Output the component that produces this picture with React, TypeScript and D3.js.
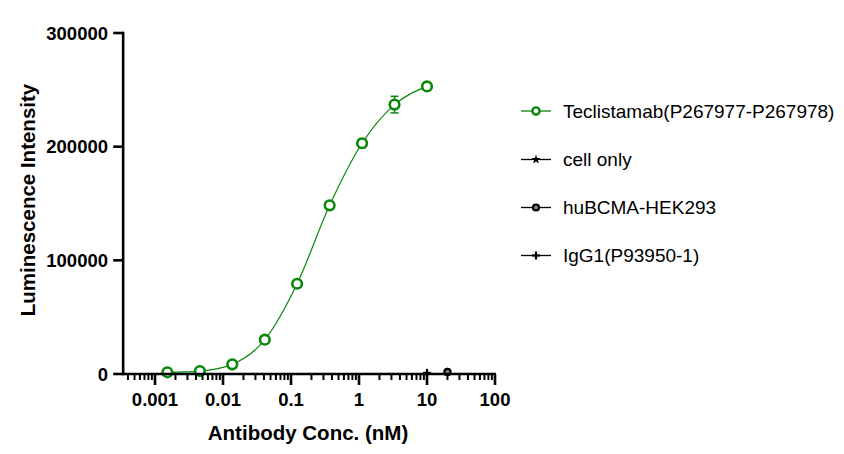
import React from "react";
import * as d3 from "d3";

const conc = [0.00152, 0.00457, 0.0137, 0.0412, 0.123, 0.37, 1.11, 3.33, 10];
const teclistamab = [1500, 2600, 8500, 30200, 79400, 148400, 203000, 237000, 253000];
const teclistamabSem = [300, 400, 500, 600, 800, 1000, 3800, 7300, 1500];
const cellOnlyX = [20];
const cellOnly = [1500];
const huBCMAX = [20];
const huBCMA = [1800];
const igg1X = [10];
const igg1 = [1000];
const yTicks = [0, 100000, 200000, 300000];
const xTicks = [0.001, 0.01, 0.1, 1, 10, 100];
const xTickLabels = ["0.001", "0.01", "0.1", "1", "10", "100"];
const legendLabels = ["Teclistamab(P267977-P267978)", "cell only", "huBCMA-HEK293", "IgG1(P93950-1)"];

const GREEN = "#0a860a";
const FONT = "Arial, 'Liberation Sans', sans-serif";

export default function App() {
  const x = d3.scaleLog().domain([0.001, 100]).range([155, 495]);
  const y = d3.scaleLinear().domain([0, 300000]).range([374, 33]);
  const xMin = 0.00034;
  const x0 = x(xMin);
  const minor: number[] = [];
  for (let e = -4; e < 2; e++) {
    for (let m = 2; m <= 9; m++) {
      const v = m * Math.pow(10, e);
      if (v > xMin && v < 100) minor.push(v);
    }
  }
  const line = d3
    .line<number>()
    .x((_, i) => x(conc[i]))
    .y((d) => y(d))
    .curve(d3.curveMonotoneX);

  const starPath = d3.symbol(d3.symbolStar, 28)() as string;
  const legendY = [111, 159.5, 207.5, 255.5];

  const marker = (kind: string, cx: number, cy: number, key: string, small = false) => {
    if (kind === "circleGreen")
      return <circle key={key} cx={cx} cy={cy} r={small ? 3.6 : 4.8} fill="white" stroke={GREEN} strokeWidth={small ? 2.4 : 2.6} />;
    if (kind === "star") return <path key={key} d={starPath} transform={`translate(${cx},${cy})`} fill="black" />;
    if (kind === "circle")
      return <circle key={key} cx={cx} cy={cy} r={3} fill="#888" stroke="black" strokeWidth={2.2} />;
    return (
      <g key={key} stroke="black" strokeWidth={2.2}>
        <line x1={cx - 4} x2={cx + 4} y1={cy} y2={cy} />
        <line x1={cx} x2={cx} y1={cy - 4} y2={cy + 4} />
      </g>
    );
  };

  return (
    <svg width={844} height={454} style={{ position: "absolute", left: 0, top: 0, background: "white" }} fontFamily={FONT}>
      <rect width={844} height={454} fill="white" />
      {/* curve */}
      <path d={line(teclistamab) as string} fill="none" stroke={GREEN} strokeWidth={1.2} />
      {/* error bars */}
      {teclistamab.map((v, i) => (
        <g key={"e" + i} stroke={GREEN} strokeWidth={1.5}>
          <line x1={x(conc[i])} x2={x(conc[i])} y1={y(v - teclistamabSem[i])} y2={y(v + teclistamabSem[i])} />
          <line x1={x(conc[i]) - 4} x2={x(conc[i]) + 4} y1={y(v - teclistamabSem[i])} y2={y(v - teclistamabSem[i])} />
          <line x1={x(conc[i]) - 4} x2={x(conc[i]) + 4} y1={y(v + teclistamabSem[i])} y2={y(v + teclistamabSem[i])} />
        </g>
      ))}
      {teclistamab.map((v, i) => marker("circleGreen", x(conc[i]), y(v), "p" + i))}
      {cellOnly.map((v, i) => marker("star", x(cellOnlyX[i]), y(v), "c" + i))}
      {huBCMA.map((v, i) => marker("circle", x(huBCMAX[i]), y(v), "h" + i))}
      {igg1.map((v, i) => marker("plus", x(igg1X[i]), y(v), "g" + i))}
      {/* axes */}
      <line x1={x0} x2={x(100) + 1} y1={y(0)} y2={y(0)} stroke="black" strokeWidth={2.6} />
      <line x1={x0} x2={x0} y1={y(300000) - 1.3} y2={y(0) + 1.3} stroke="black" strokeWidth={2.6} />
      {yTicks.map((t) => (
        <g key={t}>
          <line x1={x0 - 10} x2={x0} y1={y(t)} y2={y(t)} stroke="black" strokeWidth={2.6} />
          <text x={108} y={y(t) + 6.5} textAnchor="end" fontSize={18.5} fontWeight="bold">
            {d3.format("d")(t)}
          </text>
        </g>
      ))}
      {xTicks.map((t, i) => (
        <g key={t}>
          <line x1={x(t)} x2={x(t)} y1={y(0)} y2={y(0) + 11} stroke="black" strokeWidth={2.6} />
          <text x={x(t)} y={406} textAnchor="middle" fontSize={18.5} fontWeight="bold">
            {xTickLabels[i]}
          </text>
        </g>
      ))}
      {minor.map((t) => (
        <line key={t} x1={x(t)} x2={x(t)} y1={y(0)} y2={y(0) + 6} stroke="black" strokeWidth={2} />
      ))}
      <text x={308} y={440} textAnchor="middle" fontSize={20.5} fontWeight="bold">
        Antibody Conc. (nM)
      </text>
      <text transform="translate(35,200) rotate(-90)" textAnchor="middle" fontSize={20.5} fontWeight="bold">
        Luminescence Intensity
      </text>
      {/* legend */}
      {legendLabels.map((lab, i) => (
        <g key={lab}>
          <line x1={521} x2={551} y1={legendY[i]} y2={legendY[i]} stroke={i === 0 ? GREEN : "black"} strokeWidth={1.3} />
          {marker(["circleGreen", "star", "circle", "plus"][i], 536, legendY[i], "l" + i, true)}
          <text x={563} y={legendY[i] + 6.5} fontSize={19}>
            {lab}
          </text>
        </g>
      ))}
    </svg>
  );
}
